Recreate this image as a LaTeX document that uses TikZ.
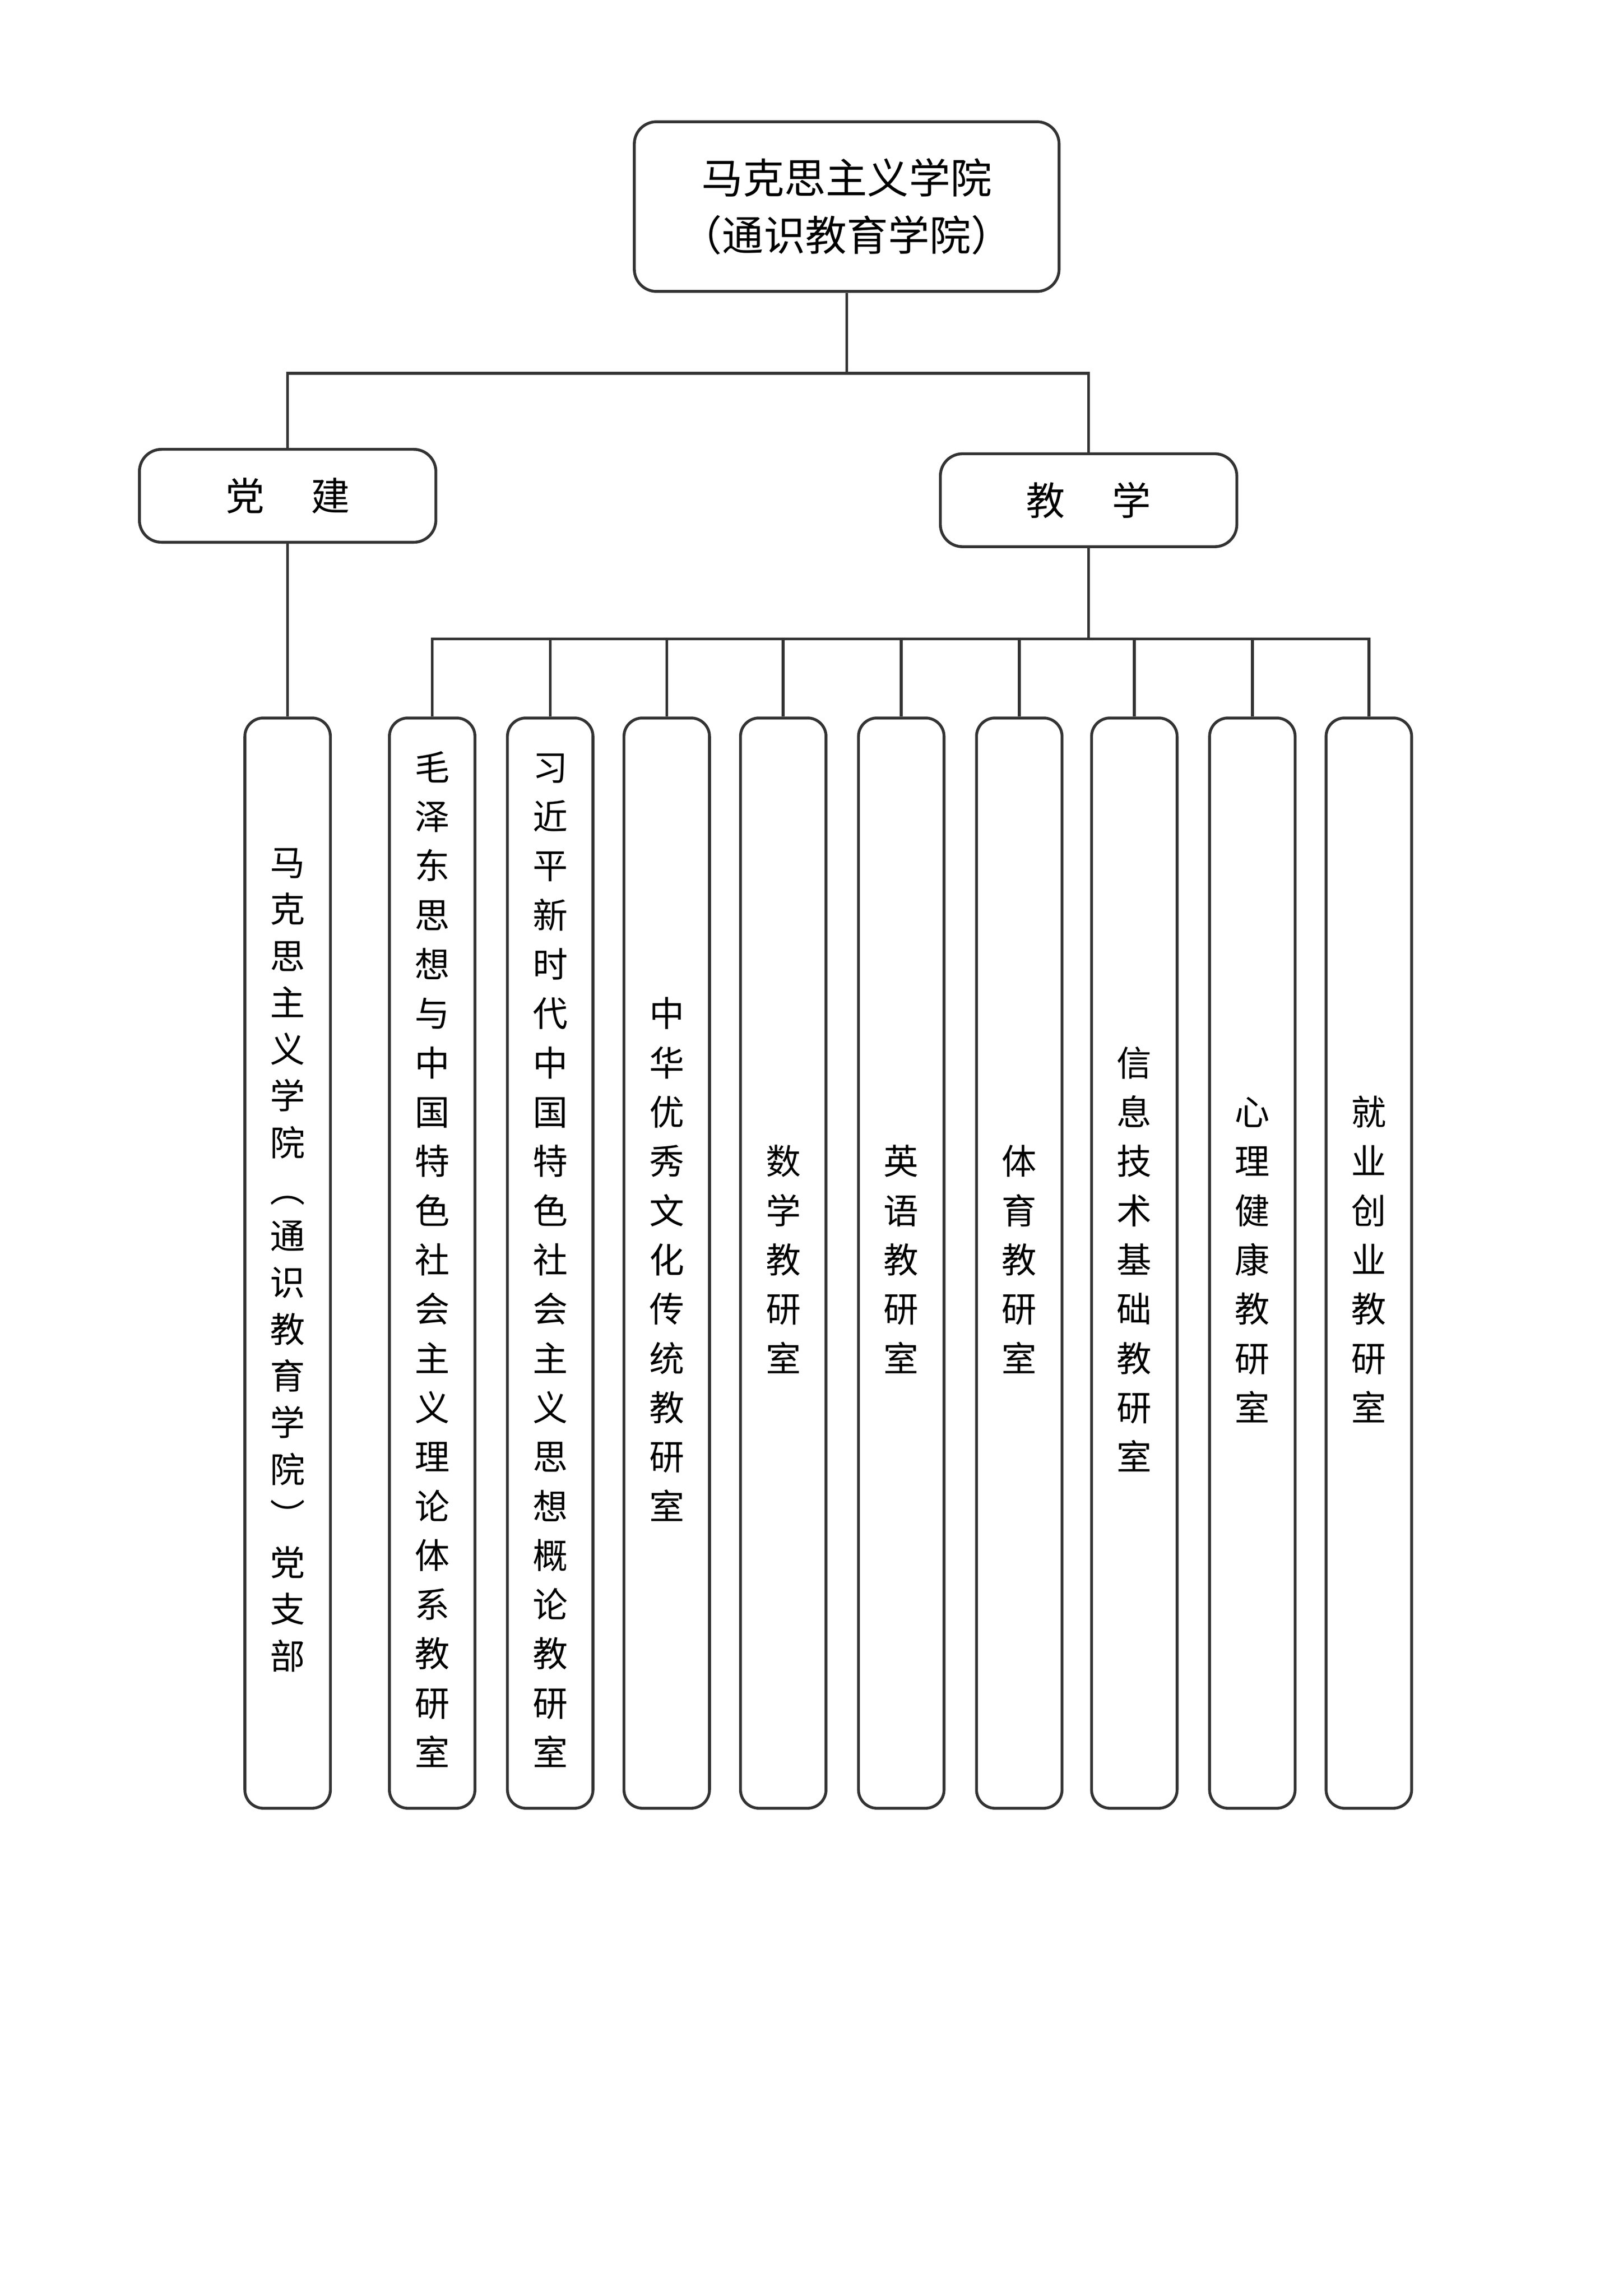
\documentclass[tikz,border=0pt]{standalone}
\usepackage{fontspec}
\setmainfont{Noto Sans CJK SC}
\usetikzlibrary{positioning}
\tikzset{
  box/.style={draw=black!80, line width=1.1pt, rounded corners=0.3cm, align=center},
  col/.style={box, rounded corners=0.25cm, minimum width=1.16cm, minimum height=14.78cm,
    font=\fontsize{13.5}{19}\selectfont, inner sep=0pt},
  link/.style={draw=black!80, line width=1.1pt}
}
\newcommand{\vtext}[1]{\begin{tabular}{@{}c@{}}#1\end{tabular}}
\begin{document}
\begin{tikzpicture}[x=0.02cm, y=-0.02cm]
  \useasboundingbox (0,0) rectangle (1100,1556);
  % top level
  \node[box, minimum width=5.76cm, minimum height=2.3cm, font=\fontsize{16}{22}\selectfont] (top) at (574,140) {马克思主义学院\\（通识教育学院）};
  \node[box, minimum width=4.02cm, minimum height=1.26cm, font=\fontsize{15}{18}\selectfont] (party) at (195,336) {党\hspace{1.2em}建};
  \node[box, minimum width=4.02cm, minimum height=1.26cm, font=\fontsize{15}{18}\selectfont] (teach) at (738,339) {教\hspace{1.2em}学};
  \coordinate (split) at (574,253);
  \draw[link] (top.south) -- (split);
  \draw[link] (split) -| (party.north);
  \draw[link] (split) -| (teach.north);
  % columns
  \node[col, font=\fontsize{13.5}{18}\selectfont] (c0) at (195,856) {\vtext{马\\克\\思\\主\\义\\学\\院\\︵\\通\\识\\教\\育\\学\\院\\︶\\党\\支\\部}};
  \node[col] (c1) at (293,856) {\vtext{毛\\泽\\东\\思\\想\\与\\中\\国\\特\\色\\社\\会\\主\\义\\理\\论\\体\\系\\教\\研\\室}};
  \node[col] (c2) at (373,856) {\vtext{习\\近\\平\\新\\时\\代\\中\\国\\特\\色\\社\\会\\主\\义\\思\\想\\概\\论\\教\\研\\室}};
  \node[col] (c3) at (452,856) {\vtext{中\\华\\优\\秀\\文\\化\\传\\统\\教\\研\\室}};
  \node[col] (c4) at (531,856) {\vtext{数\\学\\教\\研\\室}};
  \node[col] (c5) at (611,856) {\vtext{英\\语\\教\\研\\室}};
  \node[col] (c6) at (691,856) {\vtext{体\\育\\教\\研\\室}};
  \node[col] (c7) at (769,856) {\vtext{信\\息\\技\\术\\基\\础\\教\\研\\室}};
  \node[col] (c8) at (849,856) {\vtext{心\\理\\健\\康\\教\\研\\室}};
  \node[col] (c9) at (928,856) {\vtext{就\\业\\创\\业\\教\\研\\室}};
  \draw[link] (party.south) -- (c0.north);
  \coordinate (bus) at (738,433);
  \draw[link] (teach.south) -- (bus);
  \foreach \i in {1,...,9}
    \draw[link] (c\i.north) |- (bus);
\end{tikzpicture}
\end{document}
